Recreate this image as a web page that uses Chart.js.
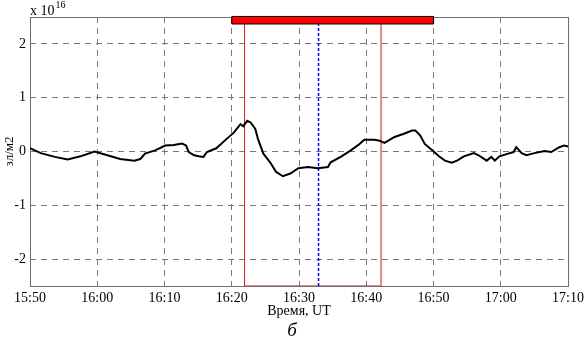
<!DOCTYPE html>
<html lang="ru">
<head>
<meta charset="UTF-8">
<title>ПЭС</title>
<style>
  body { margin: 0; background: #fff; }
  #wrap { width: 588px; height: 343px; position: relative; }
</style>
<script src="https://cdn.jsdelivr.net/npm/chart.js"></script>
</head>
<body>
<div id="wrap"><canvas id="chart" width="588" height="343"></canvas></div>
<script>
// time in minutes of the day (15:50 = 950), values in units of 1e16
const times = [950.0, 951.6, 953.7, 955.6, 957.5, 959.6, 961.5, 963.4, 965.5, 966.4, 967.1, 968.6,
  970.1, 971.4, 972.6, 973.2, 973.6, 974.4, 975.1, 975.8, 976.3, 977.7, 979.2, 980.3, 981.3,
  981.7, 982.3, 982.8, 983.5, 983.9, 984.7, 985.7, 986.6, 987.6, 988.7, 989.9, 991.3, 992.8,
  994.3, 994.7, 996.2, 997.7, 999.0, 999.7, 1001.2, 1002.0, 1002.7, 1004.2, 1005.6, 1006.8,
  1007.3, 1008.0, 1008.7, 1010.1, 1010.8, 1011.7, 1012.7, 1013.5, 1014.5, 1016.0, 1016.7,
  1017.9, 1018.6, 1019.1, 1019.8, 1021.1, 1021.9, 1022.3, 1023.1, 1023.8, 1025.0, 1026.5,
  1027.5, 1028.7, 1029.4, 1030.0];
const tec = [0.06, -0.03, -0.10, -0.15, -0.09, 0.00, -0.07, -0.14, -0.17, -0.14, -0.04, 0.02,
  0.11, 0.12, 0.15, 0.11, -0.01, -0.07, -0.09, -0.10, -0.01, 0.06, 0.23, 0.35, 0.51,
  0.47, 0.57, 0.54, 0.42, 0.23, -0.04, -0.20, -0.38, -0.46, -0.41, -0.31, -0.29, -0.31,
  -0.29, -0.20, -0.10, 0.02, 0.14, 0.22, 0.22, 0.20, 0.16, 0.27, 0.33, 0.39,
  0.39, 0.30, 0.14, -0.01, -0.09, -0.17, -0.21, -0.17, -0.09, -0.03, -0.07,
  -0.17, -0.10, -0.17, -0.09, -0.04, -0.01, 0.08, -0.03, -0.07, -0.03, 0.01,
  -0.01, 0.08, 0.11, 0.09];

const xTickLabels = ['15:50', '16:00', '16:10', '16:20', '16:30', '16:40', '16:50', '17:00', '17:10'];
const yTicks = [-2, -1, 0, 1, 2];

const barStart = 980, barEnd = 1010, barLow = 2.37, barHigh = 2.51;
const redStart = 981.9, redEnd = 1002.2;
const blueTime = 992.9;
const yMin = -2.5, yMax = 2.5;

const curve = times.map((t, i) => ({ x: t, y: tec[i] }));

const serif = '"Liberation Serif", "DejaVu Serif", serif';

const extras = {
  id: 'extras',
  beforeDatasetsDraw(chart) {
    const { ctx, chartArea: a } = chart;
    ctx.save();
    ctx.strokeStyle = '#6e6e6e';
    ctx.lineWidth = 1;
    ctx.strokeRect(a.left + 0.5, a.top + 0.5, a.right - a.left, a.bottom - a.top);
    ctx.restore();
  },
  afterDraw(chart) {
    const { ctx, chartArea: a } = chart;
    ctx.save();
    ctx.fillStyle = '#000';
    ctx.textBaseline = 'alphabetic';
    ctx.font = '14px ' + serif;
    ctx.fillText('x 10', a.left, 15);
    const w = ctx.measureText('x 10').width;
    ctx.font = '10px ' + serif;
    ctx.fillText('16', a.left + w + 1, 8);
    ctx.font = 'italic 19px ' + serif;
    ctx.textAlign = 'center';
    ctx.fillText('б', 292, 336);
    ctx.restore();
  }
};

new Chart(document.getElementById('chart'), {
  type: 'scatter',
  data: {
    datasets: [
      {
        data: curve, showLine: true, borderColor: '#000', borderWidth: 2,
        pointRadius: 0, tension: 0, order: 1
      },
      {
        data: [{ x: redEnd, y: yMin }, { x: redStart, y: yMin }, { x: redStart, y: yMax }],
        showLine: true, borderColor: '#e01515', borderWidth: 1, pointRadius: 0, order: 3
      },
      {
        data: [{ x: redEnd, y: yMin }, { x: redEnd, y: yMax }],
        showLine: true, borderColor: '#e08a8a', borderWidth: 2, pointRadius: 0, order: 3
      },
      {
        data: [{ x: blueTime, y: yMin }, { x: blueTime, y: yMax }],
        showLine: true, borderColor: '#0000ff', borderWidth: 1.5, borderDash: [3, 2],
        pointRadius: 0, order: 2
      },
      {
        data: [{ x: barStart, y: barLow }, { x: barStart, y: barHigh }, { x: barEnd, y: barHigh },
               { x: barEnd, y: barLow }, { x: barStart, y: barLow }],
        showLine: true, fill: 'shape', backgroundColor: '#ff0000', borderColor: '#000',
        borderWidth: 1, pointRadius: 0, clip: false, order: 0
      }
    ]
  },
  options: {
    responsive: false,
    animation: false,
    layout: { padding: { left: 0, right: 16, top: 17, bottom: 21 } },
    plugins: { legend: { display: false }, tooltip: { enabled: false } },
    scales: {
      x: {
        type: 'linear', min: 950, max: 1030,
        afterFit(s) { s.height = 36; },
        afterBuildTicks(s) { s.ticks = xTickLabels.map((_, i) => ({ value: 950 + i * 10 })); },
        ticks: {
          color: '#000', font: { family: serif, size: 14 }, padding: 4, maxRotation: 0,
          callback: (v) => xTickLabels[Math.round((v - 950) / 10)]
        },
        grid: { color: '#7a7a7a', drawTicks: false },
        border: { display: false, dash: [6, 5] },
        title: {
          display: true, text: 'Время, UT', color: '#000',
          font: { family: serif, size: 14 }, padding: { top: 0, bottom: 2 }
        }
      },
      y: {
        min: yMin, max: yMax,
        afterFit(s) { s.width = 30; },
        afterBuildTicks(s) { s.ticks = yTicks.map(v => ({ value: v })); },
        ticks: { color: '#000', font: { family: serif, size: 14 }, padding: 4 },
        grid: { color: '#7a7a7a', drawTicks: false },
        border: { display: false, dash: [6, 5] },
        title: {
          display: true, text: 'зл/м2', color: '#000',
          font: { family: serif, size: 13 }, padding: { top: 2, bottom: 0 }
        }
      }
    }
  },
  plugins: [extras]
});
</script>
</body>
</html>
